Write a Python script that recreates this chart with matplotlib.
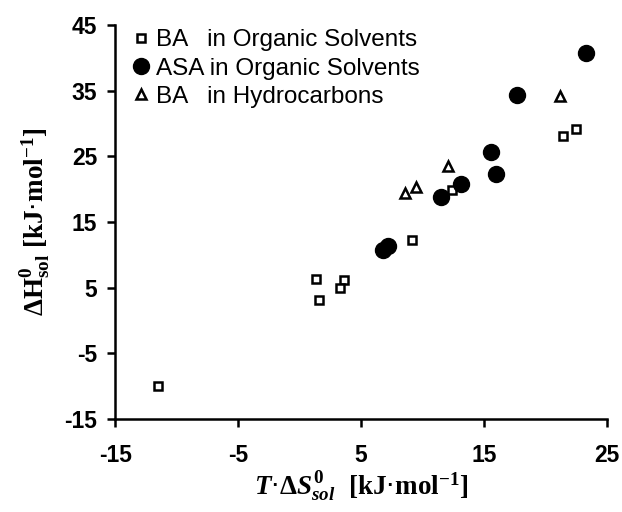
import matplotlib
matplotlib.use("Agg")
import matplotlib.pyplot as plt

# BA in organic solvents
ba_org_x = [-11.5, 1.3, 1.6, 3.6, 3.3, 9.1, 12.4, 21.4, 22.5]
ba_org_y = [-10.0, 6.3, 3.1, 6.2, 4.9, 12.2, 19.8, 28.1, 29.2]

# ASA in organic solvents
asa_org_x = [6.8, 7.2, 11.5, 13.1, 15.6, 16.0, 17.7, 23.3]
asa_org_y = [10.8, 11.4, 18.8, 20.8, 25.6, 22.3, 34.4, 40.7]

# BA in hydrocarbons
ba_hc_x = [8.6, 9.5, 12.1, 21.2]
ba_hc_y = [19.4, 20.4, 23.6, 34.2]

xticks = [-15, -5, 5, 15, 25]
yticks = [-15, -5, 5, 15, 25, 35, 45]

plt.rcParams['axes.unicode_minus'] = False
plt.rcParams['mathtext.fontset'] = 'custom'
plt.rcParams['mathtext.rm'] = 'Liberation Serif:bold'
plt.rcParams['mathtext.it'] = 'Liberation Serif:italic:bold'
plt.rcParams['mathtext.bf'] = 'Liberation Serif:bold'

fig = plt.figure(figsize=(6.22, 5.12), dpi=100)
ax = fig.add_axes([0.185, 0.182, 0.791, 0.769])

ax.plot(ba_org_x, ba_org_y, 's', ms=5.5, mfc='white', mec='black', mew=1.8,
        label='BA   in Organic Solvents')
ax.plot(asa_org_x, asa_org_y, 'o', ms=11.5, color='black',
        label='ASA in Organic Solvents')
ax.plot(ba_hc_x, ba_hc_y, '^', ms=7, mfc='white', mec='black', mew=1.8,
        label='BA   in Hydrocarbons')

ax.set_xlim(-15, 25)
ax.set_ylim(-15, 45)
ax.set_xticks(xticks)
ax.set_yticks(yticks)

for s in ['top', 'right']:
    ax.spines[s].set_visible(False)
for s in ['left', 'bottom']:
    ax.spines[s].set_linewidth(1.8)

ax.tick_params(direction='out', length=6, width=1.8)
ax.tick_params(axis='x', pad=12)
ax.tick_params(axis='y', pad=7)
for lab in ax.get_xticklabels() + ax.get_yticklabels():
    lab.set_fontfamily('Liberation Sans')
    lab.set_fontweight('bold')
    lab.set_fontsize(16.5)

ax.set_xlabel(r'$T$·$\Delta S^{\mathrm{0}}_{sol}\ \ \mathrm{[kJ}$·$\mathrm{mol^{-1}]}$',
              fontsize=19.5, labelpad=2)
ax.set_ylabel(r'$\mathrm{\Delta H^{0}_{sol}\ [kJ}$·$\mathrm{mol^{-1}]}$',
              fontsize=19.5, labelpad=8)

leg = ax.legend(loc='upper left', bbox_to_anchor=(0.215, 0.943),
                bbox_transform=fig.transFigure, frameon=False,
                prop={'family': 'Liberation Sans', 'size': 17.5},
                handlelength=0.6, handletextpad=0.3, labelspacing=0.26,
                borderaxespad=0, borderpad=0)

fig.savefig('out.png', dpi=100)
